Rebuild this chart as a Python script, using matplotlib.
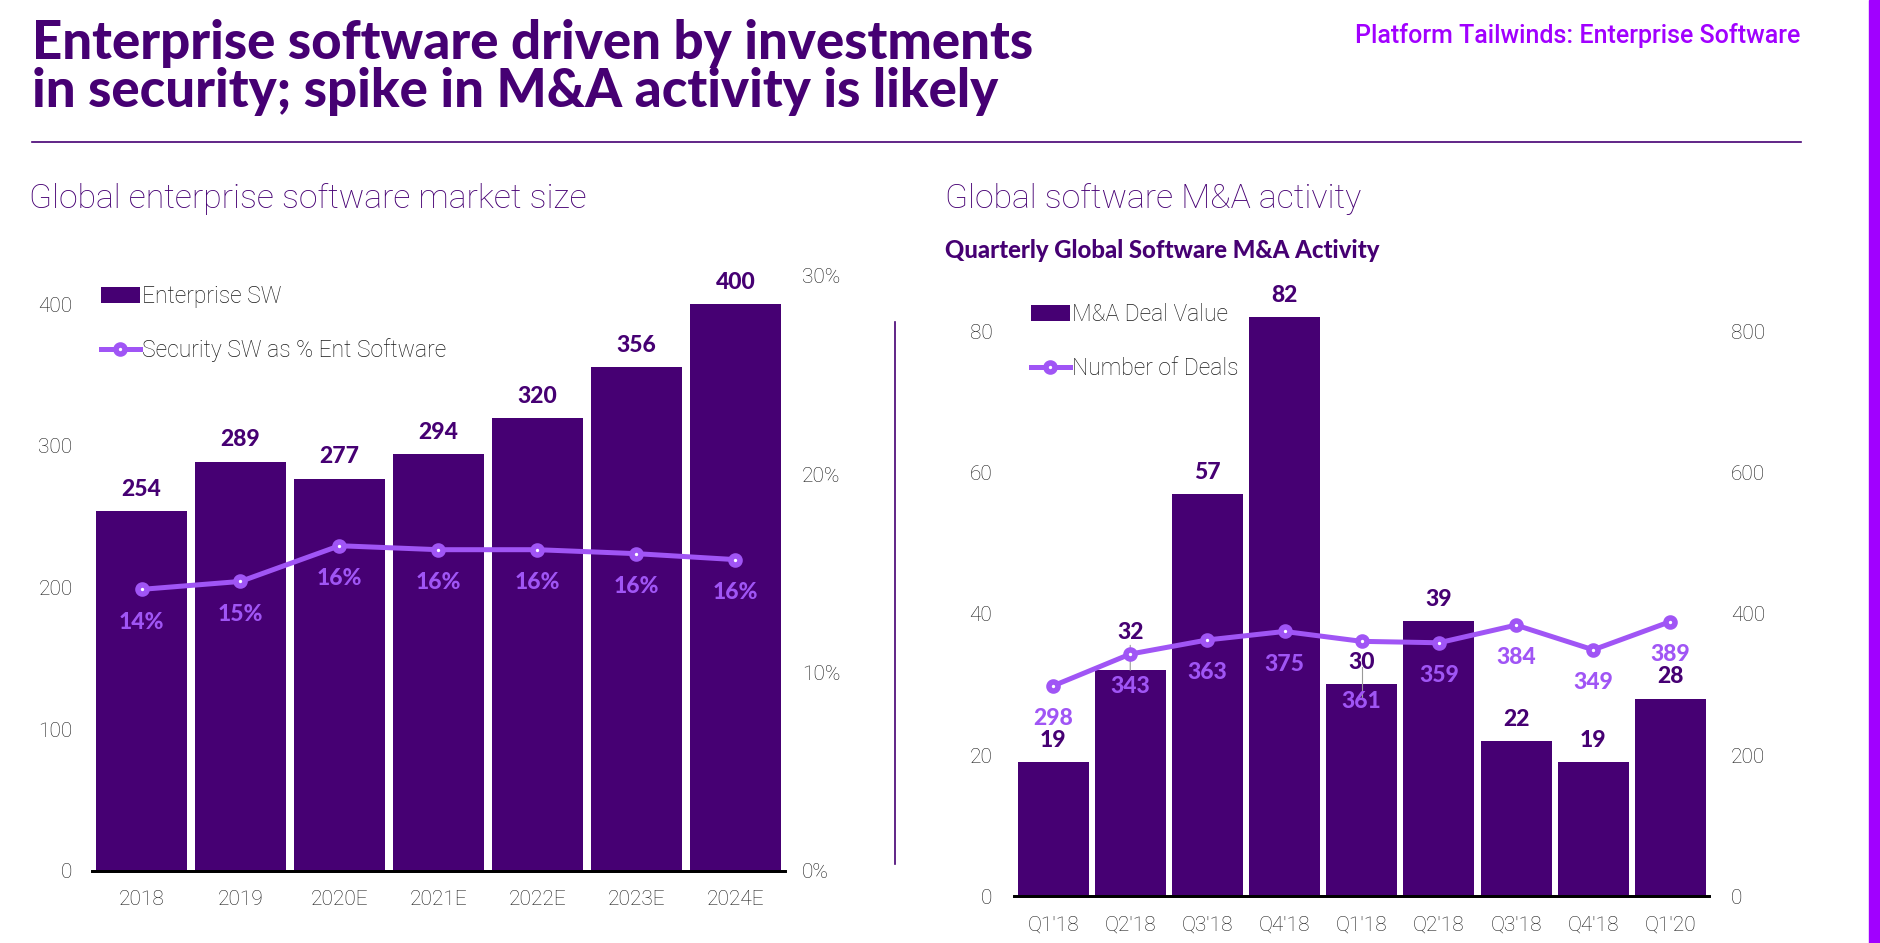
import matplotlib
matplotlib.use("Agg")
import matplotlib.pyplot as plt
from matplotlib.patches import Rectangle
from matplotlib.lines import Line2D

# Data
years = ["2018", "2019", "2020E", "2021E", "2022E", "2023E", "2024E"]
ent_sw = [254, 289, 277, 294, 320, 356, 400]
sec_share = [14.2, 14.6, 16.4, 16.2, 16.2, 16.0, 15.7]

quarters = ["Q1'18", "Q2'18", "Q3'18", "Q4'18", "Q1'18", "Q2'18", "Q3'18", "Q4'18", "Q1'20"]
deal_value = [19, 32, 57, 82, 30, 39, 22, 19, 28]
deal_count = [298, 343, 363, 375, 361, 359, 384, 349, 389]

DARK = "#460073"
LINE = "#A055F5"
BRIGHT = "#A100FF"
TXT = "#1a1a1a"

plt.rcParams["font.family"] = ["Lato", "DejaVu Sans"]
LIGHT = ["Roboto", "DejaVu Sans"]

W, H = 1881, 943
fig = plt.figure(figsize=(W / 100, H / 100), dpi=100)


def px_axes(x0, y_top, x1, y_bot):
    return fig.add_axes([x0 / W, 1 - y_bot / H, (x1 - x0) / W, (y_bot - y_top) / H])


def style(ax):
    for s in ["top", "left", "right"]:
        ax.spines[s].set_visible(False)
    ax.spines["bottom"].set_linewidth(2)
    ax.spines["bottom"].set_color("black")
    ax.tick_params(length=0, labelsize=15, labelcolor=TXT)
    for t in ax.get_xticklabels() + ax.get_yticklabels():
        t.set_family(LIGHT)
        t.set_fontweight("light")


# Header
fig.text(32 / W, 1 - 19 / H, "Enterprise software driven by investments\nin security; spike in M&A activity is likely",
         fontsize=38, fontweight="black", color=DARK, va="top", ha="left", linespacing=0.98)
fig.text(1800 / W, 1 - 35 / H, "Platform Tailwinds: Enterprise Software", fontsize=18,
         color=BRIGHT, ha="right", va="center", family=LIGHT, fontweight="medium")
fig.add_artist(Line2D([32 / W, 1801 / W], [1 - 141.5 / H] * 2, color=DARK, lw=1.2))
fig.add_artist(Rectangle((1869 / W, 0), 12 / W, 1, color=BRIGHT, transform=fig.transFigure))
fig.add_artist(Line2D([895 / W, 895 / W], [1 - 322 / H, 1 - 864 / H], color=DARK, lw=1.2))

fig.text(29 / W, 1 - 199 / H, "Global enterprise software market size", fontsize=24.3,
         color=DARK, va="center", family=LIGHT, fontweight="light")
fig.text(945 / W, 1 - 199 / H, "Global software M&A activity", fontsize=24.3,
         color=DARK, va="center", family=LIGHT, fontweight="light")
fig.text(945 / W, 1 - 250 / H, "Quarterly Global Software M&A Activity", fontsize=17.2,
         color=DARK, va="center", fontweight="black")

# Left chart
ax1 = px_axes(92, 276, 785, 871)
x1 = range(len(years))
ax1.bar(x1, ent_sw, width=0.92, color=DARK, label="Enterprise SW", zorder=2)
ax1.set_xlim(-0.5, len(years) - 0.5)
ax1.set_ylim(0, 420)
ax1.set_yticks([0, 100, 200, 300, 400])
ax1.set_xticks(list(x1))
ax1.set_xticklabels(years)
for i, v in enumerate(ent_sw):
    ax1.annotate(str(v), (i, v), xytext=(0, 8), textcoords="offset points", ha="center", va="bottom",
                 fontsize=16.5, fontweight="black", color=DARK)
ax1b = ax1.twinx()
ax1b.plot(x1, sec_share, color=LINE, lw=3.6, marker="o", ms=6.5, mfc="white", mec=LINE, mew=4,
          label="Security SW as % Ent Software", zorder=3)
ax1b.set_ylim(0, 30)
ax1b.set_yticks([0, 10, 20, 30])
ax1b.set_yticklabels(["0%", "10%", "20%", "30%"])
for i, v in enumerate(sec_share):
    ax1b.annotate(f"{v:.0f}%", (i, v), xytext=(0, -16), textcoords="offset points", ha="center", va="top",
                  fontsize=16.5, fontweight="black", color=LINE)
for a in (ax1, ax1b):
    style(a)
ax1.tick_params(axis="y", pad=14)
ax1.tick_params(axis="x", pad=14)
ax1b.tick_params(axis="y", pad=12)

h1, l1 = ax1.get_legend_handles_labels()
h2, l2 = ax1b.get_legend_handles_labels()
ax1b.legend(h1 + h2, l1 + l2, loc="upper left", bbox_to_anchor=(80 / W, 1 - 264 / H),
            bbox_transform=fig.transFigure, frameon=False, labelspacing=1.35,
            handlelength=1.7, handletextpad=0.1, labelcolor=TXT,
            prop={"family": LIGHT, "weight": "light", "size": 16.5})

# Right chart
ax2 = px_axes(1014.5, 288.8, 1709, 896.4)
x2 = range(len(quarters))
ax2.bar(x2, deal_value, width=0.92, color=DARK, label="M&A Deal Value", zorder=2)
ax2.set_xlim(-0.5, len(quarters) - 0.5)
ax2.set_ylim(0, 86)
ax2.set_yticks([0, 20, 40, 60, 80])
ax2.set_xticks(list(x2))
ax2.set_xticklabels(quarters)
# label nudges (points) where the reference moved labels apart
value_lift = {1: 12}
count_drop = {4: 20}
for i, v in enumerate(deal_value):
    dy = 8 + value_lift.get(i, 0)
    ax2.annotate(str(v), (i, v), xytext=(0, dy), textcoords="offset points", ha="center", va="bottom",
                 fontsize=16.5, fontweight="black", color=DARK,
                 arrowprops=dict(arrowstyle="-", color="#999999", lw=0.8, shrinkA=0, shrinkB=0)
                 if i in value_lift else None)
ax2b = ax2.twinx()
ax2b.plot(x2, deal_count, color=LINE, lw=3.6, marker="o", ms=6.5, mfc="white", mec=LINE, mew=4,
          label="Number of Deals", zorder=3)
ax2b.set_ylim(0, 860)
ax2b.set_yticks([0, 200, 400, 600, 800])
for i, v in enumerate(deal_count):
    dy = -16 - count_drop.get(i, 0)
    ax2b.annotate(str(v), (i, v), xytext=(0, dy), textcoords="offset points", ha="center", va="top",
                  fontsize=16.5, fontweight="black", color=LINE)
for i in count_drop:
    ax2.plot([i, i], [deal_value[i] - 2, deal_value[i] + 2.5], color="#999999", lw=0.8, zorder=2.5)
for a in (ax2, ax2b):
    style(a)
ax2.tick_params(axis="y", pad=16)
ax2.tick_params(axis="x", pad=14)
ax2b.tick_params(axis="y", pad=16)

h1, l1 = ax2.get_legend_handles_labels()
h2, l2 = ax2b.get_legend_handles_labels()
ax2b.legend(h1 + h2, l1 + l2, loc="upper left", bbox_to_anchor=(1010 / W, 1 - 282 / H),
            bbox_transform=fig.transFigure, frameon=False, labelspacing=1.35,
            handlelength=1.7, handletextpad=0.1, labelcolor=TXT,
            prop={"family": LIGHT, "weight": "light", "size": 16.5})

fig.savefig("out.png", dpi=100, facecolor="white")
